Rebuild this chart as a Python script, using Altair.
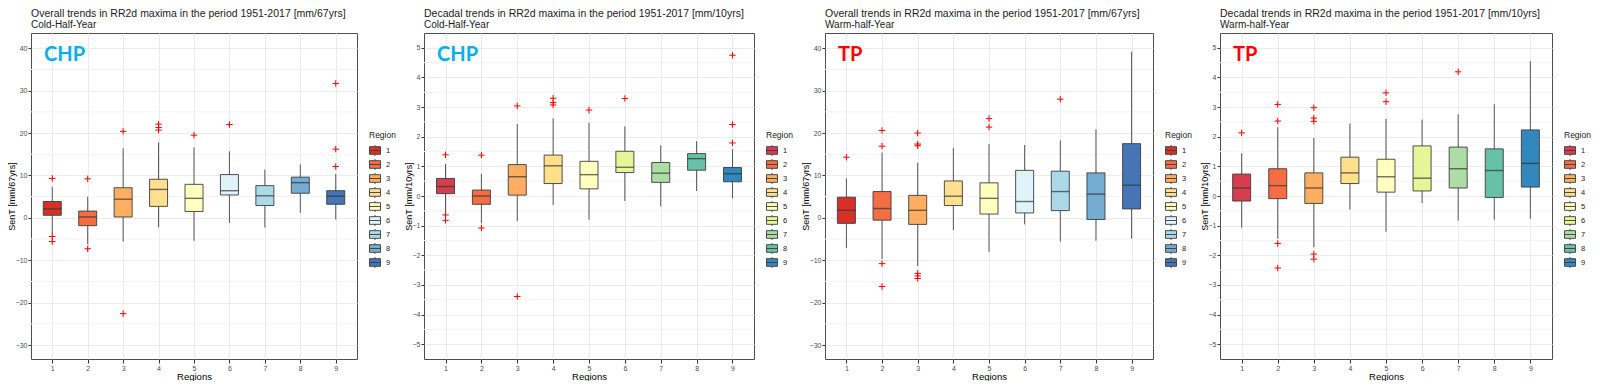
import altair as alt
import pandas as pd

regions = [1, 2, 3, 4, 5, 6, 7, 8, 9]

rdylbu = ["#d73027", "#f46d43", "#fdae61", "#fee090", "#ffffbf", "#e0f3f8", "#abd9e9", "#74add1", "#4575b4"]
spectral = ["#d53e4f", "#f46d43", "#fdae61", "#fee08b", "#ffffbf", "#e6f598", "#abdda4", "#66c2a5", "#3288bd"]

ticks_overall = [-30, -20, -10, 0, 10, 20, 30, 40]
minor_overall = [-25, -15, -5, 5, 15, 25, 35]
ticks_decadal = [-5, -4, -3, -2, -1, 0, 1, 2, 3, 4, 5]
minor_decadal = [-4.5, -3.5, -2.5, -1.5, -0.5, 0.5, 1.5, 2.5, 3.5, 4.5]

# Panel 1: CHP, overall trends, cold half-year
p1_lo = [-3.9, -6.2, -5.6, -2.2, -5.4, -1.2, -2.3, 1.2, -0.4]
p1_q1 = [0.6, -1.85, 0.2, 2.7, 1.5, 5.4, 2.9, 5.8, 3.2]
p1_med = [2.1, 0.2, 4.4, 6.7, 4.6, 6.4, 5.2, 8.3, 5.1]
p1_q3 = [3.85, 1.6, 7.1, 9.1, 7.9, 10.2, 7.6, 9.6, 6.4]
p1_hi = [7.3, 5.0, 16.4, 17.8, 16.6, 15.7, 11.4, 12.6, 10.4]
p1_out_region = [1, 1, 1, 2, 2, 3, 3, 4, 4, 4, 5, 6, 9, 9, 9]
p1_out_value = [9.3, -4.4, -5.6, 9.2, -7.3, 20.4, -22.6, 22.1, 21.3, 20.7, 19.5, 22.0, 31.7, 16.2, 12.1]

# Panel 2: CHP, decadal trends, cold half-year
p2_lo = [-0.55, -0.92, -0.85, -0.3, -0.8, -0.17, -0.35, 0.17, -0.08]
p2_q1 = [0.08, -0.28, 0.03, 0.42, 0.24, 0.79, 0.46, 0.87, 0.48]
p2_med = [0.32, 0.0, 0.65, 1.02, 0.72, 0.97, 0.77, 1.26, 0.75]
p2_q3 = [0.59, 0.2, 1.06, 1.38, 1.17, 1.51, 1.13, 1.43, 0.96]
p2_hi = [1.08, 0.75, 2.43, 2.62, 2.47, 2.35, 1.71, 1.85, 1.58]
p2_out_region = [1, 1, 1, 2, 2, 3, 3, 4, 4, 4, 5, 6, 9, 9, 9]
p2_out_value = [1.39, -0.64, -0.82, 1.38, -1.08, 3.04, -3.39, 3.3, 3.15, 3.07, 2.9, 3.29, 4.75, 2.41, 1.79]

# Panel 3: TP, overall trends, warm half-year
p3_lo = [-7.1, -9.7, -11.4, -2.9, -8.0, -1.55, -5.6, -5.4, -4.9]
p3_q1 = [-1.3, -0.55, -1.55, 2.9, 0.9, 1.15, 1.7, -0.4, 2.1]
p3_med = [1.77, 2.2, 1.77, 5.1, 4.6, 3.85, 6.2, 5.6, 7.7]
p3_q3 = [4.87, 6.2, 5.3, 8.7, 8.25, 11.2, 11.0, 10.6, 17.5]
p3_hi = [9.3, 15.4, 13.0, 16.5, 17.4, 17.2, 18.3, 20.9, 39.2]
p3_out_region = [1, 2, 2, 2, 2, 3, 3, 3, 3, 3, 3, 5, 5, 7]
p3_out_value = [14.3, 20.6, 16.9, -10.8, -16.2, 20.0, 17.4, 17.0, -13.1, -13.7, -14.3, 23.4, 21.4, 28.0]

# Panel 4: TP, decadal trends, warm half-year
p4_lo = [-1.07, -1.44, -1.73, -0.46, -1.21, -0.24, -0.83, -0.8, -0.77]
p4_q1 = [-0.17, -0.09, -0.25, 0.42, 0.13, 0.17, 0.27, -0.05, 0.3]
p4_med = [0.27, 0.35, 0.27, 0.78, 0.65, 0.6, 0.92, 0.86, 1.1]
p4_q3 = [0.74, 0.92, 0.78, 1.31, 1.24, 1.69, 1.65, 1.59, 2.23]
p4_hi = [1.44, 2.32, 1.96, 2.45, 2.6, 2.58, 2.76, 3.1, 4.55]
p4_out_region = [1, 2, 2, 2, 2, 3, 3, 3, 3, 3, 5, 5, 7]
p4_out_value = [2.13, 3.09, 2.53, -1.6, -2.43, 2.98, 2.63, 2.52, -1.96, -2.13, 3.48, 3.18, 4.19]

FONT = "Liberation Sans"
BOX_W = 18
H = 326
KEY_PATH = "M-1,-0.7H1V0.7H-1Z M-1,0H1 M0,-0.7V-1 M0,0.7V1"
CROSS = "M-1,0H1M0,-1V1"


def panel(title, subtitle, ytitle, domain, ticks, minor, colors, extent,
          lo, q1, med, q3, hi, out_r, out_v, tag, tag_color, width):
    df = pd.DataFrame({"Region": regions, "lo": lo, "q1": q1, "med": med, "q3": q3, "hi": hi})
    out = pd.DataFrame({"Region": out_r, "value": out_v})
    mn = pd.DataFrame({"m": minor})
    lab = pd.DataFrame({"t": [tag]})

    xenc = alt.X("Region:O", scale=alt.Scale(type="point", padding=0.6, domain=regions),
                 axis=alt.Axis(title="Regions", labelAngle=0, grid=True, gridColor="#ebebeb",
                               tickColor="#333333", tickSize=4, labelFontSize=7, labelColor="#4d4d4d",
                               labelPadding=1, titleFontSize=9.5, titlePadding=0, titleFontWeight="normal",
                               domain=False))
    yscale = alt.Scale(domain=domain, nice=False, zero=False)
    yaxis = alt.Axis(title=ytitle, values=ticks, grid=True, gridColor="#ebebeb", labelOverlap=False,
                     tickColor="#333333", tickSize=3, labelFontSize=7, labelColor="#4d4d4d",
                     labelPadding=1, titleFontSize=9, titlePadding=1, titleFontWeight="normal",
                     domain=False, minExtent=extent, maxExtent=extent)

    minor_rules = alt.Chart(mn).mark_rule(color="#f3f3f3", strokeWidth=1).encode(
        y=alt.Y("m:Q", scale=yscale, axis=yaxis))
    whisk = alt.Chart(df).mark_rule(color="#555555", strokeWidth=1).encode(
        x=xenc, y=alt.Y("lo:Q", scale=yscale, axis=yaxis), y2="hi:Q")
    box = alt.Chart(df).mark_bar(size=BOX_W, stroke="#3c3c3c", strokeWidth=0.9).encode(
        x=xenc, y=alt.Y("q1:Q", scale=yscale, axis=yaxis), y2="q3:Q",
        fill=alt.Fill("Region:O", scale=alt.Scale(domain=regions, range=colors),
                      legend=alt.Legend(title="Region", orient="none", legendX=width + 12, legendY=98,
                                        symbolType=KEY_PATH, symbolSize=121, symbolStrokeColor="#3c3c3c",
                                        symbolStrokeWidth=0.9, labelFontSize=7.5, titleFontSize=8.5,
                                        titleFontWeight="normal", rowPadding=-2, labelOffset=5,
                                        titlePadding=5, labelColor="#1a1a1a", titleColor="#1a1a1a")))
    median = alt.Chart(df).mark_tick(size=BOX_W, thickness=1.4, color="#333333").encode(
        x=xenc, y=alt.Y("med:Q", scale=yscale, axis=yaxis))
    outl = alt.Chart(out).mark_point(shape=CROSS, size=42, filled=False, color="#ff0000",
                                     strokeWidth=1, opacity=1).encode(
        x=xenc, y=alt.Y("value:Q", scale=yscale, axis=yaxis))
    tagt = alt.Chart(lab).mark_text(align="left", baseline="top", font="Lato", fontSize=20,
                                    fontWeight="bold", color=tag_color).encode(
        x=alt.value(13), y=alt.value(12), text="t:N")

    return alt.layer(minor_rules, whisk, box, median, outl, tagt).properties(
        width=width, height=H,
        title=alt.TitleParams(text=title, subtitle=subtitle, anchor="start", frame="group",
                              fontSize=10.5, subtitleFontSize=10, fontWeight="normal",
                              font=FONT, subtitleFont=FONT, color="#1a1a1a",
                              subtitleColor="#1a1a1a", offset=3, subtitlePadding=1))


c1 = panel("Overall trends in RR2d maxima in the period 1951-2017 [mm/67yrs]", "Cold-Half-Year",
           "SenT [mm/67yrs]", [-33.3, 43.6], ticks_overall, minor_overall, rdylbu, 14,
           p1_lo, p1_q1, p1_med, p1_q3, p1_hi, p1_out_region, p1_out_value, "CHP", "#00b0f0", 326)
c2 = panel("Decadal trends in RR2d maxima in the period 1951-2017 [mm/10yrs]", "Cold-Half-Year",
           "SenT [mm/10yrs]", [-5.5, 5.5], ticks_decadal, minor_decadal, spectral, 10,
           p2_lo, p2_q1, p2_med, p2_q3, p2_hi, p2_out_region, p2_out_value, "CHP", "#00b0f0", 330)
c3 = panel("Overall trends in RR2d maxima in the period 1951-2017 [mm/67yrs]", "Warm-half-Year",
           "SenT [mm/67yrs]", [-33.3, 43.6], ticks_overall, minor_overall, rdylbu, 14,
           p3_lo, p3_q1, p3_med, p3_q3, p3_hi, p3_out_region, p3_out_value, "TP", "#ff0000", 328)
c4 = panel("Decadal trends in RR2d maxima in the period 1951-2017 [mm/10yrs]", "Warm-half-Year",
           "SenT [mm/10yrs]", [-5.5, 5.5], ticks_decadal, minor_decadal, spectral, 10,
           p4_lo, p4_q1, p4_med, p4_q3, p4_hi, p4_out_region, p4_out_value, "TP", "#ff0000", 332)

chart = alt.hconcat(c1, c2, c3, c4, spacing=6).resolve_scale(
    fill="independent", y="independent", x="independent"
).resolve_legend(fill="independent").properties(
    padding={"left": -2, "top": 0, "right": 0, "bottom": 0}
).configure(font=FONT).configure_axis(
    labelOverlap=False, titleFontWeight="normal"
).configure_legend(titleFontWeight="normal").configure_view(stroke="#4d4d4d", strokeWidth=1)

chart.save("out.html", embed_options={"renderer": "svg", "actions": False})
